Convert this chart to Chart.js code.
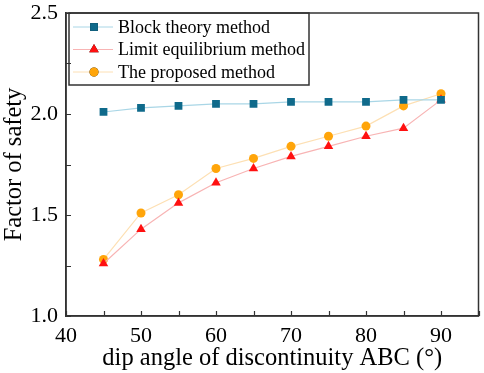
<!DOCTYPE html>
<html>
<head>
<meta charset="utf-8">
<script src="https://cdn.jsdelivr.net/npm/chart.js@4"></script>
<style>
  html, body { margin: 0; padding: 0; background: #fff; }
  #wrap { width: 484px; height: 373px; }
</style>
</head>
<body>
<div id="wrap"><canvas id="fosChart" width="484" height="373"></canvas></div>
<script>
// dip angle of discontinuity ABC (degrees)
const dipAngles = [45, 50, 55, 60, 65, 70, 75, 80, 85, 90];

// factor of safety per method
const blockTheory = [2.01, 2.03, 2.04, 2.05, 2.05, 2.06, 2.06, 2.06, 2.07, 2.07];
const limitEquilibrium = [1.26, 1.43, 1.56, 1.66, 1.73, 1.79, 1.84, 1.89, 1.93, 2.07];
const proposedMethod = [1.28, 1.51, 1.60, 1.73, 1.78, 1.84, 1.89, 1.94, 2.04, 2.10];

const seriesNames = ["Block theory method", "Limit equilibrium method", "The proposed method"];

const xTickLabels = [40, 50, 60, 70, 80, 90];
const yTickLabels = [1.0, 1.5, 2.0, 2.5];

const serif = "'Liberation Serif', 'Times New Roman', serif";

function toPoints(values) {
  return dipAngles.map((x, i) => ({ x: x, y: values[i] }));
}

// boxed legend drawn in the upper-left corner of the plot
const boxedLegend = {
  id: "boxedLegend",
  afterDraw(chart) {
    const ctx = chart.ctx;
    const area = chart.chartArea;
    const x0 = area.left + 3, y0 = area.top, w = 240, h = 72;
    ctx.save();
    ctx.strokeStyle = "#333";
    ctx.lineWidth = 1.5;
    ctx.strokeRect(x0, y0, w, h);
    ctx.font = "18px " + serif;
    ctx.textBaseline = "middle";
    chart.data.datasets.forEach((ds, i) => {
      const y = y0 + 14 + i * 22.5;
      ctx.strokeStyle = ds.borderColor;
      ctx.lineWidth = 1;
      ctx.beginPath();
      ctx.moveTo(x0 + 4, y);
      ctx.lineTo(x0 + 44, y);
      ctx.stroke();
      Chart.helpers.drawPoint(ctx, {
        pointStyle: ds.pointStyle,
        radius: ds.pointRadius,
        borderWidth: 0
      }, x0 + 25, y);
      ctx.fillStyle = ds.pointBackgroundColor;
      ctx.fill();
      ctx.fillStyle = "#000";
      ctx.fillText(ds.label, x0 + 49, y + 1);
    });
    ctx.restore();
  }
};

// full box round the plot area, with inward ticks on bottom and left
const frameBox = {
  id: "frameBox",
  afterDatasetsDraw(chart) {
    const a = chart.chartArea;
    const ctx = chart.ctx;
    ctx.save();
    ctx.strokeStyle = "#333";
    ctx.lineWidth = 1.5;
    ctx.strokeRect(a.left, a.top, a.right - a.left, a.bottom - a.top);
    ctx.lineWidth = 1.2;
    ctx.beginPath();
    chart.scales.x.ticks.forEach((t) => {
      const px = Math.round(chart.scales.x.getPixelForValue(t.value)) + 0.5;
      ctx.moveTo(px, a.bottom);
      ctx.lineTo(px, a.bottom - 5);
    });
    chart.scales.y.ticks.forEach((t) => {
      const py = Math.round(chart.scales.y.getPixelForValue(t.value)) + 0.5;
      ctx.moveTo(a.left, py);
      ctx.lineTo(a.left + 5, py);
    });
    ctx.stroke();
    ctx.restore();
  }
};

function renderChart() {
  const ctx = document.getElementById("fosChart").getContext("2d");

  new Chart(ctx, {
    type: "line",
    data: {
      datasets: [
        {
          label: seriesNames[0],
          data: toPoints(blockTheory),
          borderColor: "#a9d6e6",
          borderWidth: 1.2,
          pointStyle: "rect",
          pointRadius: 5.5,
          pointBackgroundColor: "#0f6a8b",
          pointBorderWidth: 0
        },
        {
          label: seriesNames[1],
          data: toPoints(limitEquilibrium),
          borderColor: "#f8b4b4",
          borderWidth: 1.2,
          pointStyle: "triangle",
          pointRadius: 5.5,
          pointBackgroundColor: "#ff1010",
          pointBorderWidth: 0
        },
        {
          label: seriesNames[2],
          data: toPoints(proposedMethod),
          borderColor: "#fde0b4",
          borderWidth: 1.2,
          pointStyle: "circle",
          pointRadius: 4.5,
          pointBackgroundColor: "#ffa50a",
          pointBorderWidth: 0
        }
      ]
    },
    options: {
      responsive: false,
      animation: false,
      layout: { padding: { top: 13, right: 1, left: 0, bottom: 0 } },
      plugins: {
        legend: { display: false },
        tooltip: { enabled: false }
      },
      scales: {
        x: {
          type: "linear",
          min: 40,
          max: 95,
          afterFit: (scale) => {
            scale.height = 57;
            scale.paddingLeft = 0;
            scale.paddingRight = 0;
          },
          afterBuildTicks: (scale) => {
            scale.ticks = [];
            for (let v = 40; v <= 95; v += 5) scale.ticks.push({ value: v });
          },
          ticks: {
            color: "#000",
            font: { family: serif, size: 22 },
            padding: 5,
            maxRotation: 0,
            autoSkip: false,
            callback: (v) => (xTickLabels.includes(v) ? String(v) : "")
          },
          grid: {
            drawOnChartArea: false,
            drawTicks: true,
            tickLength: 2,
            color: "rgba(0,0,0,0)"
          },
          border: { color: "#333", width: 1.5 },
          title: {
            display: true,
            text: "dip angle of discontinuity ABC (°)",
            color: "#000",
            font: { family: serif, size: 24.5 },
            padding: { top: 0, bottom: 0 }
          }
        },
        y: {
          min: 1.0,
          max: 2.5,
          afterFit: (scale) => {
            scale.width = 66;
            scale.paddingTop = 0;
            scale.paddingBottom = 0;
          },
          afterBuildTicks: (scale) => {
            scale.ticks = [];
            for (let v = 1.0; v <= 2.5001; v += 0.25) scale.ticks.push({ value: Math.round(v * 100) / 100 });
          },
          ticks: {
            color: "#000",
            font: { family: serif, size: 22 },
            padding: 6,
            autoSkip: false,
            callback: (v) => (yTickLabels.includes(v) ? v.toFixed(1) : "")
          },
          grid: {
            drawOnChartArea: false,
            drawTicks: true,
            tickLength: 2,
            color: "rgba(0,0,0,0)"
          },
          border: { color: "#333", width: 1.5 },
          title: {
            display: true,
            text: "Factor of safety",
            color: "#000",
            font: { family: serif, size: 24.5 },
            padding: { top: 0, bottom: 0 }
          }
        }
      }
    },
    plugins: [frameBox, boxedLegend]
  });
}

document.addEventListener("DOMContentLoaded", renderChart);
</script>
</body>
</html>
